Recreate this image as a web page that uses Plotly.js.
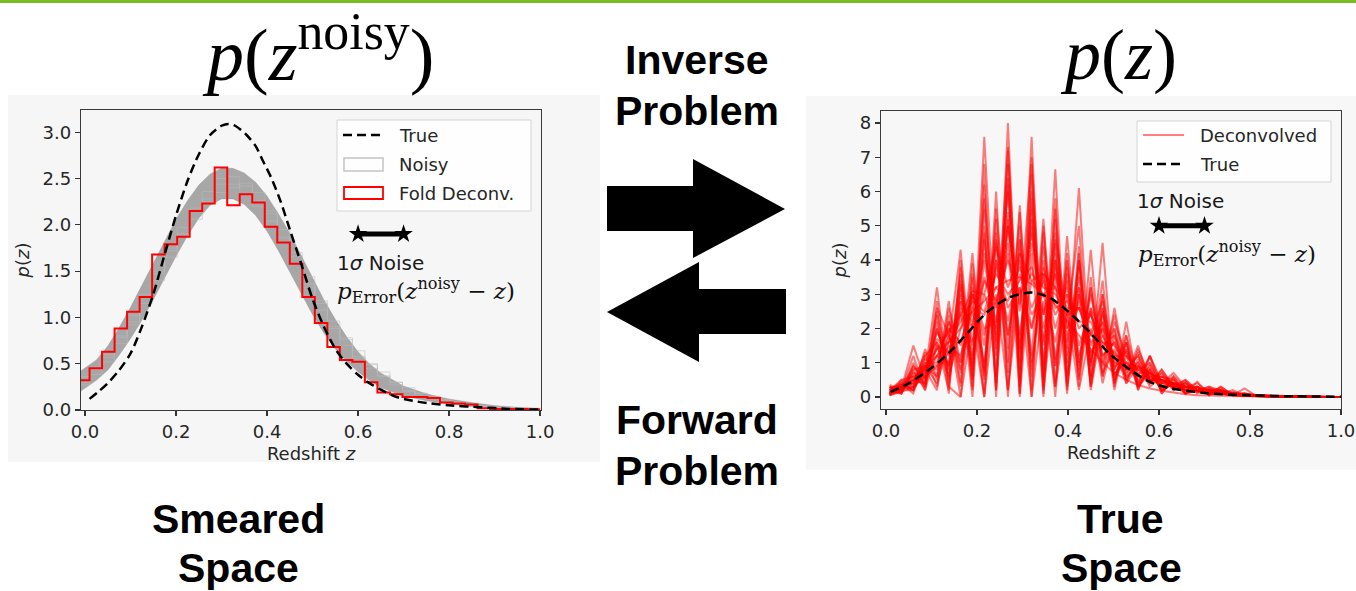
<!DOCTYPE html>
<html>
<head>
<meta charset="utf-8">
<script src="https://cdn.plot.ly/plotly-3.0.1.min.js"></script>
<style>html,body{margin:0;padding:0;background:#fff;}#chart{width:1356px;height:591px;}</style>
</head>
<body>
<div id="chart"></div>
<script>
// ---------------- DATA ----------------
// Left panel: histogram bin edges (Redshift z)
const binEdges = [-0.0175,0.01,0.0375,0.065,0.0925,0.12,0.1475,0.175,0.2025,0.23,0.2575,0.285,0.3125,0.34,0.3675,0.395,0.4225,0.45,0.4775,0.505,0.5325,0.56,0.5875,0.615,0.6425,0.67,0.6975,0.725,0.7525,0.78,0.8075,0.835,0.8625,0.89,0.9175,0.945,0.9725,1.0];
// Fold deconvolution histogram (red)
const foldDeconv = [0.32,0.45,0.63,0.88,1.06,1.22,1.68,1.79,1.87,2.15,2.23,2.62,2.21,2.33,2.24,1.98,1.81,1.58,1.22,0.94,0.68,0.54,0.52,0.30,0.19,0.17,0.14,0.14,0.13,0.08,0.07,0.06,0.02,0.01,0.01,0.01,0.005];
// Noisy histograms: extent of the grey band of realisations
const bandZ    = [-0.01,0.025,0.05,0.075,0.1,0.125,0.15,0.175,0.2,0.225,0.25,0.275,0.3,0.325,0.35,0.375,0.4,0.425,0.45,0.475,0.5,0.525,0.55,0.575,0.6,0.625,0.65,0.7,0.75,0.8,0.85,0.9,0.95,1.0];
const bandLow  = [0.20,0.32,0.43,0.59,0.77,0.97,1.19,1.43,1.66,1.88,2.07,2.21,2.28,2.28,2.22,2.10,1.93,1.72,1.49,1.25,1.03,0.83,0.66,0.53,0.41,0.32,0.24,0.15,0.10,0.065,0.035,0.015,0.008,0.0];
const bandHigh = [0.42,0.54,0.69,0.89,1.11,1.35,1.59,1.83,2.06,2.26,2.43,2.55,2.61,2.61,2.56,2.46,2.31,2.12,1.91,1.67,1.43,1.19,0.98,0.79,0.63,0.50,0.40,0.26,0.175,0.12,0.08,0.048,0.03,0.02];
// a few individual noisy step histograms
const noisy1 = [0.30,0.46,0.52,0.80,0.92,1.25,1.40,1.75,1.88,2.18,2.25,2.50,2.40,2.45,2.20,2.15,1.82,1.70,1.32,1.18,0.88,0.78,0.56,0.50,0.36,0.30,0.20,0.18,0.12,0.11,0.07,0.06,0.04,0.03,0.02,0.015,0.01];
const noisy2 = [0.36,0.38,0.60,0.72,1.02,1.15,1.50,1.65,1.97,2.06,2.36,2.35,2.52,2.32,2.35,2.04,1.95,1.58,1.44,1.08,0.96,0.70,0.64,0.45,0.41,0.27,0.24,0.15,0.14,0.09,0.08,0.05,0.045,0.025,0.025,0.012,0.008];
const noisy3 = [0.27,0.44,0.57,0.78,0.95,1.22,1.47,1.72,1.90,2.15,2.28,2.44,2.44,2.42,2.26,2.12,1.86,1.66,1.36,1.15,0.90,0.76,0.58,0.49,0.37,0.30,0.21,0.18,0.13,0.10,0.075,0.055,0.04,0.03,0.02,0.015,0.01];
// True p(z) as drawn in the left panel
const trueLeftZ = [0.01,0.03,0.05,0.075,0.1,0.125,0.15,0.175,0.2,0.225,0.25,0.275,0.3,0.315,0.33,0.355,0.375,0.39,0.41,0.43,0.45,0.475,0.5,0.525,0.55,0.575,0.6,0.625,0.65,0.685,0.72,0.76,0.8,0.87,0.93,1.0];
const trueLeftP = [0.12,0.2,0.29,0.43,0.61,0.9,1.25,1.68,2.1,2.47,2.76,2.97,3.07,3.09,3.07,2.97,2.85,2.7,2.5,2.25,1.95,1.58,1.2,0.9,0.66,0.5,0.38,0.29,0.22,0.14,0.1,0.07,0.05,0.03,0.012,0.005];
// Right panel: evaluation grid of the deconvolved p(z)
const zGrid = [0.008,0.034,0.060,0.086,0.112,0.138,0.164,0.190,0.216,0.242,0.268,0.294,0.320,0.346,0.372,0.398,0.424,0.450,0.476,0.502,0.528,0.554,0.580,0.606,0.632,0.658,0.684,0.710,0.736,0.762,0.788,0.814,0.840,0.866,0.892,0.918,0.944,0.970,0.996];
const deconvA1 = [0.15,0.30,0.20,0.90,0.40,1.60,4.30,0.60,7.60,1.20,6.20,0.80,5.00,1.50,4.50,1.00,3.50,1.20,2.00,0.50,1.20,0.30,0.70,0.20,0.40,0.15,0.30,0.10,0.15,0.08,0.10,0.05,0.04,0.03,0.02,0.01,0.01,0.00,0.00];
const deconvA2 = [0.10,0.20,0.50,0.40,1.60,0.90,2.50,1.50,5.50,0.40,8.00,0.30,6.00,0.90,5.50,0.60,3.00,1.80,2.80,0.70,1.00,0.60,0.50,0.40,0.30,0.20,0.15,0.15,0.10,0.06,0.05,0.04,0.03,0.02,0.01,0.01,0.00,0.00,0.00];
const deconvA3 = [0.30,0.10,0.80,0.20,2.20,0.50,3.30,0.80,4.00,1.80,7.20,0.50,7.60,0.20,4.00,1.40,6.10,0.60,2.50,1.00,0.90,0.50,0.80,0.20,0.50,0.20,0.20,0.10,0.30,0.05,0.10,0.03,0.03,0.02,0.02,0.01,0.00,0.00,0.00];
const deconvA4 = [0.05,0.35,0.30,0.70,3.20,0.40,2.80,1.10,3.50,2.20,6.00,1.30,5.50,0.60,6.65,0.30,4.00,0.90,3.40,0.40,1.60,0.20,1.00,0.10,0.55,0.10,0.45,0.05,0.30,0.05,0.25,0.03,0.02,0.02,0.01,0.00,0.00,0.00,0.00];
const deconvA5 = [0.20,0.25,1.50,0.50,1.20,1.00,3.00,1.60,3.00,2.00,4.50,1.80,4.50,2.00,3.80,1.60,3.00,1.30,1.80,0.90,1.00,0.60,0.60,0.30,0.35,0.20,0.20,0.10,0.10,0.06,0.05,0.03,0.02,0.01,0.01,0.00,0.00,0.00,0.00];
const deconvA6 = [0.10,0.15,0.60,0.60,2.50,0.70,3.80,0.20,6.80,0.00,7.30,1.00,6.50,0.30,5.20,0.70,4.40,0.20,2.20,0.60,1.40,0.40,0.90,0.30,0.40,0.10,0.20,0.10,0.10,0.05,0.05,0.04,0.03,0.02,0.01,0.01,0.00,0.00,0.00];
const deconvB1 = [0.25,0.40,0.10,1.20,0.30,2.00,0.00,3.50,0.10,5.50,1.40,5.00,0.00,4.80,0.30,4.70,0.80,3.00,1.20,1.60,0.50,1.00,0.30,0.60,0.20,0.40,0.10,0.25,0.10,0.15,0.05,0.05,0.03,0.02,0.01,0.01,0.00,0.00,0.00];
const deconvB2 = [0.10,0.50,0.30,0.90,0.60,1.80,0.80,2.80,0.00,4.50,0.70,5.60,0.20,5.00,0.90,3.60,0.50,4.30,0.60,2.60,0.80,1.20,0.40,0.80,0.30,0.50,0.20,0.30,0.20,0.10,0.08,0.05,0.04,0.02,0.01,0.01,0.00,0.00,0.00];
const deconvB3 = [0.20,0.30,0.40,1.00,0.80,1.50,1.20,2.50,1.00,4.00,1.80,4.20,0.80,4.00,0.90,3.00,0.60,2.60,0.40,1.80,0.50,1.10,0.40,0.70,0.20,0.45,0.15,0.30,0.10,0.20,0.05,0.05,0.03,0.02,0.01,0.00,0.00,0.00,0.00];
const deconvB4 = [0.05,0.20,0.20,0.80,0.20,2.40,0.40,3.90,0.80,5.20,0.00,4.60,1.00,3.60,0.00,4.20,0.30,3.50,0.90,2.20,1.20,0.80,1.00,0.40,0.40,0.30,0.20,0.20,0.15,0.08,0.06,0.04,0.03,0.02,0.01,0.00,0.00,0.00,0.00];
const deconvC1 = [0.10,0.30,0.50,0.80,1.20,1.60,2.00,2.50,2.80,3.20,3.40,3.50,3.30,3.00,2.70,2.20,1.80,1.40,1.00,0.70,0.50,0.35,0.25,0.18,0.12,0.08,0.05,0.04,0.03,0.02,0.01,0.01,0.00,0.00,0.00,0.00,0.00,0.00,0.00];
const deconvC2 = [0.20,0.20,0.70,0.60,1.90,1.20,2.80,2.00,4.20,2.60,5.00,2.70,4.80,2.40,4.00,2.00,3.20,1.50,2.20,1.00,1.30,0.70,0.70,0.40,0.40,0.25,0.25,0.15,0.15,0.08,0.06,0.04,0.03,0.02,0.01,0.01,0.00,0.00,0.00];
const deconvC3 = [0.15,0.25,0.30,1.10,0.90,2.20,1.50,3.00,1.80,3.80,2.20,4.00,2.00,3.60,2.00,3.20,1.50,2.50,1.20,1.60,0.80,1.00,0.50,0.50,0.30,0.30,0.20,0.20,0.10,0.10,0.05,0.04,0.02,0.02,0.01,0.00,0.00,0.00,0.00];
const deconvD1 = [0.30,0.10,0.90,0.40,2.80,0.30,0.00,2.20,0.00,3.00,0.20,3.20,0.00,2.80,0.30,2.50,0.20,2.00,0.70,1.40,0.40,0.90,0.50,0.50,0.30,0.40,0.20,0.20,0.20,0.10,0.05,0.03,0.02,0.01,0.00,0.00,0.00,0.00,0.00];
const deconvE1 = [0.20,0.35,0.40,1.30,0.50,2.60,1.00,4.20,0.50,6.00,0.20,4.60,1.20,5.20,0.40,3.80,1.20,2.60,1.80,1.20,0.60,0.90,0.50,0.50,0.30,0.30,0.20,0.20,0.10,0.10,0.06,0.04,0.03,0.02,0.01,0.01,0.00,0.00,0.00];
const deconvE2 = [0.10,0.25,0.90,0.50,2.00,0.90,3.60,0.50,5.80,1.60,5.00,2.50,7.00,0.80,4.80,2.20,5.00,0.60,4.50,0.30,2.20,0.40,1.20,0.40,0.60,0.30,0.30,0.20,0.25,0.10,0.10,0.05,0.03,0.02,0.01,0.01,0.00,0.00,0.00];
const deconvE3 = [0.30,0.20,0.50,0.90,1.40,1.60,2.20,2.80,2.50,3.60,3.00,3.40,3.80,2.40,3.60,2.00,2.60,2.40,1.50,1.80,0.80,1.20,0.50,0.60,0.40,0.30,0.30,0.15,0.15,0.10,0.05,0.03,0.02,0.01,0.01,0.00,0.00,0.00,0.00];
const deconvE4 = [0.15,0.10,1.00,0.30,2.40,0.10,4.00,0.30,6.20,0.60,6.80,0.10,5.80,0.50,4.20,0.40,3.80,0.30,2.40,0.80,1.60,0.30,0.80,0.20,0.40,0.20,0.20,0.10,0.10,0.05,0.05,0.03,0.02,0.01,0.01,0.00,0.00,0.00,0.00];
const deconvE5 = [0.05,0.45,0.20,1.40,0.60,2.80,0.70,3.20,1.50,4.80,1.00,5.40,0.60,4.40,1.10,4.00,0.90,3.20,1.00,2.40,0.60,1.50,0.40,0.80,0.30,0.50,0.20,0.25,0.15,0.10,0.05,0.04,0.02,0.01,0.01,0.00,0.00,0.00,0.00];
const deconvE6 = [0.25,0.30,0.60,0.70,1.70,1.30,2.60,2.20,3.40,2.80,4.00,3.00,3.60,3.20,3.00,2.40,2.60,1.60,2.00,1.20,1.20,0.80,0.60,0.50,0.40,0.30,0.20,0.20,0.10,0.10,0.05,0.03,0.02,0.01,0.00,0.00,0.00,0.00,0.00];
const deconvE7 = [0.10,0.40,0.20,1.00,1.00,2.20,0.30,3.60,0.70,4.00,2.60,3.20,2.00,3.80,2.60,2.80,2.20,2.20,1.40,2.00,0.70,1.30,0.50,0.70,0.30,0.40,0.20,0.20,0.10,0.10,0.06,0.04,0.02,0.01,0.01,0.00,0.00,0.00,0.00];
const deconvE8 = [0.20,0.15,0.70,0.40,2.00,0.80,3.40,1.20,4.60,1.40,5.40,1.60,5.20,1.60,4.60,1.20,4.00,1.00,3.00,0.80,1.80,0.60,1.20,0.40,0.70,0.30,0.40,0.15,0.20,0.10,0.06,0.04,0.02,0.01,0.01,0.00,0.00,0.00,0.00];
const deconvF1 = [0.35,0.20,1.20,0.20,1.50,0.60,2.00,3.00,0.60,4.60,1.80,3.60,2.40,3.00,3.20,1.80,2.80,1.00,2.60,0.60,1.40,0.40,0.70,0.30,0.40,0.20,0.20,0.10,0.10,0.05,0.04,0.03,0.02,0.01,0.00,0.00,0.00,0.00,0.00];
const deconvF2 = [0.10,0.30,0.40,1.20,1.60,0.20,3.20,0.00,4.80,0.20,5.20,0.00,4.20,0.10,3.60,0.20,3.20,0.40,2.60,0.20,1.80,0.20,1.20,0.10,0.60,0.10,0.30,0.05,0.20,0.05,0.10,0.02,0.02,0.01,0.00,0.00,0.00,0.00,0.00];
const deconvF3 = [0.20,0.50,0.60,0.30,2.60,1.80,1.00,3.00,2.00,2.20,4.20,1.40,3.40,3.00,1.60,3.40,1.00,3.20,0.60,2.00,0.40,1.40,0.60,0.60,0.50,0.20,0.30,0.10,0.20,0.10,0.05,0.03,0.02,0.01,0.01,0.00,0.00,0.00,0.00];
const deconvF4 = [0.15,0.25,0.80,0.90,1.20,2.00,1.60,2.60,2.40,3.20,2.80,3.80,2.60,3.40,2.40,3.00,2.00,2.40,1.60,1.50,1.00,0.90,0.70,0.50,0.40,0.30,0.20,0.20,0.10,0.08,0.05,0.03,0.02,0.01,0.00,0.00,0.00,0.00,0.00];
const deconvF5 = [0.05,0.15,0.30,0.60,0.90,1.30,2.40,0.90,5.00,0.20,6.40,0.10,6.80,0.00,5.80,0.10,4.20,0.30,3.00,0.40,1.60,0.30,0.80,0.20,0.40,0.10,0.20,0.10,0.10,0.05,0.04,0.02,0.01,0.01,0.00,0.00,0.00,0.00,0.00];
const deconvF6 = [0.25,0.35,0.50,0.80,1.40,1.90,2.40,3.10,3.00,4.40,3.20,4.20,3.40,3.60,3.20,2.60,2.60,1.80,1.60,1.30,0.90,0.80,0.50,0.50,0.30,0.30,0.15,0.15,0.10,0.06,0.04,0.02,0.01,0.01,0.00,0.00,0.00,0.00,0.00];
const deconvolved = [deconvA1,deconvA2,deconvA3,deconvA4,deconvA5,deconvA6,deconvB1,deconvB2,deconvB3,deconvB4,deconvC1,deconvC2,deconvC3,deconvD1,deconvE1,deconvE2,deconvE3,deconvE4,deconvE5,deconvE6,deconvE7,deconvE8,deconvF1,deconvF2,deconvF3,deconvF4,deconvF5,deconvF6];
// True p(z) as drawn in the right panel
const trueRightZ = [0.01,0.05,0.1,0.14,0.18,0.22,0.27,0.32,0.36,0.4,0.45,0.49,0.54,0.58,0.62,0.7,0.8,0.9,1.0];
const trueRightP = [0.15,0.4,0.85,1.31,1.88,2.45,2.9,3.05,2.9,2.5,1.86,1.28,0.76,0.44,0.27,0.12,0.05,0.02,0.01];
// 1-sigma noise bar
const noiseX = [0.6,0.7];
const noiseYLeft = [1.9,1.9];
const noiseYRight = [5.0,5.0];
// ticks
const zTickVals = [0,0.2,0.4,0.6,0.8,1.0];
const zTickText = ['0.0','0.2','0.4','0.6','0.8','1.0'];
const leftYTickVals = [0,0.5,1.0,1.5,2.0,2.5,3.0];
const leftYTickText = ['0.0','0.5','1.0','1.5','2.0','2.5','3.0'];
const rightYTickVals = [0,1,2,3,4,5,6,7,8];
const rightYTickText = ['0','1','2','3','4','5','6','7','8'];

// ---------------- LAYOUT HELPERS ----------------
const W = 1356, H = 591;
const X = p => p / W;
const Y = p => 1 - p / H;
const stepY = v => v.concat([v[v.length - 1]]);

const traces = [];
// Left: noisy band
traces.push({x: bandZ, y: bandLow, type:'scatter', mode:'lines', line:{width:0.5, color:'rgba(130,130,130,0.5)'}, xaxis:'x', yaxis:'y', hoverinfo:'skip'});
traces.push({x: bandZ, y: bandHigh, type:'scatter', mode:'lines', fill:'tonexty', fillcolor:'rgba(145,145,145,0.78)', line:{width:0.5, color:'rgba(130,130,130,0.5)'}, xaxis:'x', yaxis:'y', hoverinfo:'skip'});
[noisy1, noisy2, noisy3].forEach(n => traces.push({x: binEdges, y: stepY(n), type:'scatter', mode:'lines', line:{shape:'hv', width:1, color:'rgba(185,185,185,0.55)'}, xaxis:'x', yaxis:'y', hoverinfo:'skip'}));
traces.push({x: binEdges, y: stepY(foldDeconv), type:'scatter', mode:'lines', name:'Fold Deconv.', line:{shape:'hv', width:2, color:'#ff0000'}, xaxis:'x', yaxis:'y'});
traces.push({x: trueLeftZ, y: trueLeftP, type:'scatter', mode:'lines', name:'True', line:{shape:'spline', smoothing:0.8, width:2.5, color:'#000', dash:'9px,5px'}, xaxis:'x', yaxis:'y'});
traces.push({x: noiseX, y: noiseYLeft, type:'scatter', mode:'lines+markers', line:{width:5, color:'#000'}, marker:{symbol:'star', size:14, color:'#000'}, xaxis:'x', yaxis:'y', hoverinfo:'skip'});
// Right: deconvolved realisations
deconvolved.forEach(d => traces.push({x: zGrid, y: d, type:'scatter', mode:'lines', line:{width:2, color:'rgba(255,0,0,0.5)'}, xaxis:'x2', yaxis:'y2', hoverinfo:'skip'}));
traces.push({x: trueRightZ, y: trueRightP, type:'scatter', mode:'lines', name:'True', line:{shape:'spline', smoothing:0.8, width:2.5, color:'#000', dash:'9px,5px'}, xaxis:'x2', yaxis:'y2'});
traces.push({x: noiseX, y: noiseYRight, type:'scatter', mode:'lines+markers', line:{width:5, color:'#000'}, marker:{symbol:'star', size:14, color:'#000'}, xaxis:'x2', yaxis:'y2', hoverinfo:'skip'});

const axisCommon = {ticks:'outside', ticklen:5, tickwidth:1.2, tickcolor:'#333', showline:true, linecolor:'#3a3a3a', linewidth:1.3, mirror:true, showgrid:false, zeroline:false, tickfont:{family:'DejaVu Sans', size:18, color:'#262626'}};

const pz = '<i>p</i>(<i>z</i>)';
const layout = {
  width: W, height: H, margin:{l:0, r:0, t:0, b:0},
  paper_bgcolor:'#ffffff', plot_bgcolor:'#fcfcfc', showlegend:false,
  font:{family:'DejaVu Sans', color:'#262626'},
  xaxis: Object.assign({}, axisCommon, {domain:[X(81), X(541)], range:[-0.0088, 1.002], anchor:'y', tickvals:zTickVals, ticktext:zTickText,
    title:{text:'Redshift <i>z</i>', font:{size:18, color:'#262626'}, standoff:6}}),
  yaxis: Object.assign({}, axisCommon, {domain:[Y(410), Y(110)], range:[0, 3.24], anchor:'x', tickvals:leftYTickVals, ticktext:leftYTickText,
    title:{text:pz, font:{size:18, color:'#262626'}, standoff:8}}),
  xaxis2: Object.assign({}, axisCommon, {domain:[X(881), X(1341)], range:[-0.011, 1.0], anchor:'y2', tickvals:zTickVals, ticktext:zTickText,
    title:{text:'Redshift <i>z</i>', font:{size:18, color:'#262626'}, standoff:6}}),
  yaxis2: Object.assign({}, axisCommon, {domain:[Y(409), Y(111)], range:[-0.35, 8.35], anchor:'x2', tickvals:rightYTickVals, ticktext:rightYTickText,
    title:{text:pz, font:{size:18, color:'#262626'}, standoff:8}}),
  shapes: [],
  annotations: []
};

const S = layout.shapes, A = layout.annotations;
// top green rule
S.push({type:'rect', xref:'paper', yref:'paper', x0:0, x1:1, y0:Y(3), y1:1, fillcolor:'#7abd22', line:{width:0}, layer:'below'});
// panel backdrops
S.push({type:'rect', xref:'paper', yref:'paper', x0:X(8), x1:X(600), y0:Y(462), y1:Y(95), fillcolor:'#f6f6f6', line:{width:0}, layer:'below'});
S.push({type:'rect', xref:'paper', yref:'paper', x0:X(806), x1:X(1356), y0:Y(470), y1:Y(96), fillcolor:'#f7f7f7', line:{width:0}, layer:'below'});
// arrows
const P = (pts) => 'M' + pts.map(p => X(p[0]).toFixed(5) + ',' + Y(p[1]).toFixed(5)).join(' L') + ' Z';
S.push({type:'path', xref:'paper', yref:'paper', path:P([[607,186],[693,186],[693,159],[785,209],[693,258],[693,231],[607,231]]), fillcolor:'#000', line:{width:0}});
S.push({type:'path', xref:'paper', yref:'paper', path:P([[607,312],[699,262],[699,289],[786,289],[786,334],[699,334],[699,362]]), fillcolor:'#000', line:{width:0}});

// left legend
S.push({type:'rect', xref:'paper', yref:'paper', x0:X(337), x1:X(531), y0:Y(211), y1:Y(120), fillcolor:'rgba(255,255,255,0.85)', line:{color:'#d4d4d4', width:1}});
S.push({type:'line', xref:'paper', yref:'paper', x0:X(343), x1:X(383), y0:Y(135), y1:Y(135), line:{color:'#000', width:2.5, dash:'9px,5px'}});
S.push({type:'rect', xref:'paper', yref:'paper', x0:X(344), x1:X(383), y0:Y(171), y1:Y(158), line:{color:'#c4c4c4', width:1.5}});
S.push({type:'rect', xref:'paper', yref:'paper', x0:X(344), x1:X(383), y0:Y(199), y1:Y(187), line:{color:'#ff0000', width:1.8}});
// right legend
S.push({type:'rect', xref:'paper', yref:'paper', x0:X(1137), x1:X(1331), y0:Y(182), y1:Y(121), fillcolor:'rgba(255,255,255,0.85)', line:{color:'#d4d4d4', width:1}});
S.push({type:'line', xref:'paper', yref:'paper', x0:X(1143), x1:X(1184), y0:Y(135), y1:Y(135), line:{color:'rgba(255,0,0,0.5)', width:2}});
S.push({type:'line', xref:'paper', yref:'paper', x0:X(1143), x1:X(1184), y0:Y(164), y1:Y(164), line:{color:'#000', width:2.5, dash:'9px,5px'}});

const txt = (text, px, py, opts) => A.push(Object.assign({xref:'paper', yref:'paper', x:X(px), y:Y(py), text:text, showarrow:false, xanchor:'left', yanchor:'middle', font:{family:'DejaVu Sans', size:18, color:'#262626'}}, opts || {}));
txt('True', 397, 135);
txt('Noisy', 397, 164);
txt('Fold Deconv.', 397, 193);
txt('Deconvolved', 1198, 135);
txt('True', 1198, 164);
txt('1<i>σ</i> Noise', 335, 263, {font:{family:'DejaVu Sans', size:20, color:'#1a1a1a'}});
txt('1<i>σ</i> Noise', 1135, 201, {font:{family:'DejaVu Sans', size:20, color:'#1a1a1a'}});
const perr = '<i>p</i><sub>Error</sub>(<i>z</i><sup>noisy</sup> − <i>z</i>)';
txt(perr, 335, 290, {font:{family:'DejaVu Serif', size:23, color:'#111'}});
txt(perr, 1136, 253, {font:{family:'DejaVu Serif', size:23, color:'#111'}});

// big labels
const big = (text, px, py) => txt(text, px, py, {xanchor:'center', height:44, valign:'middle', borderpad:0, font:{family:'Liberation Sans', size:41, color:'#000', weight:'bold'}});
big('Inverse', 697, 60);
big('Problem', 697, 111);
big('Forward', 697, 420);
big('Problem', 697, 471);
big('Smeared', 239, 519);
big('Space', 239, 568);
big('True', 1120, 519);
big('Space', 1121, 568);
// panel titles
txt('<i>p</i>(<i>z</i><sup>noisy</sup>)', 318, 50, {xanchor:'center', font:{family:'Liberation Serif', size:74, color:'#000'}});
txt('<i>p</i>(<i>z</i>)', 1118, 55, {xanchor:'center', font:{family:'Liberation Serif', size:72, color:'#000'}});

Plotly.newPlot('chart', traces, layout, {staticPlot:true, displayModeBar:false});
</script>
</body>
</html>
